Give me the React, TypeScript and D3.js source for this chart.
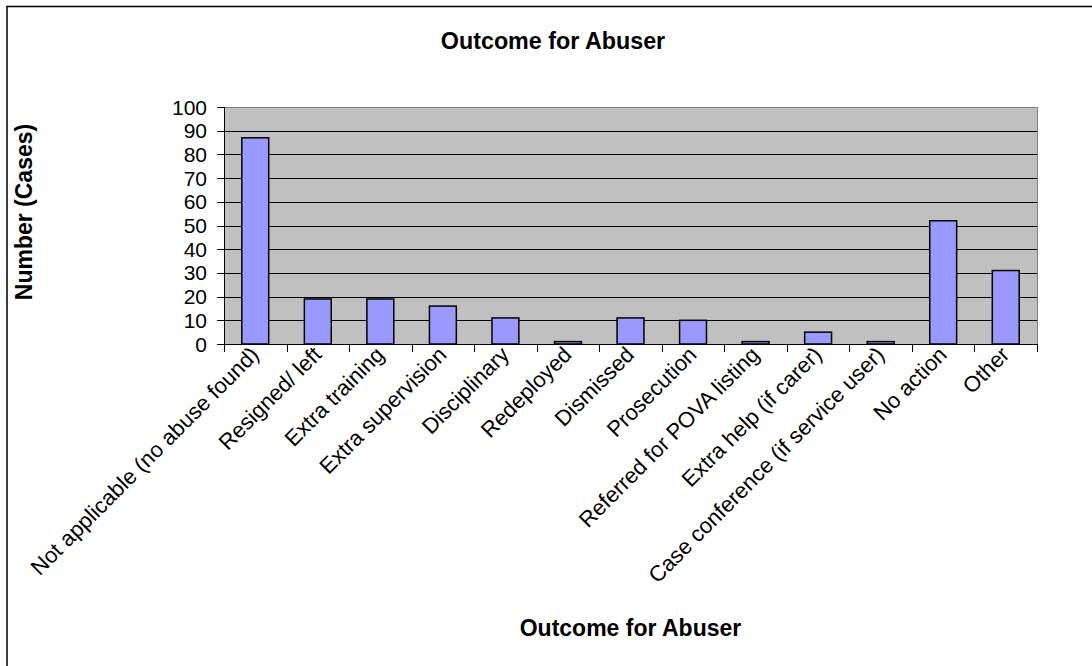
import React from "react";
import * as d3 from "d3";

const categories: string[] = [
  "Not applicable (no abuse found)",
  "Resigned/ left",
  "Extra training",
  "Extra supervision",
  "Disciplinary",
  "Redeployed",
  "Dismissed",
  "Prosecution",
  "Referred for POVA listing",
  "Extra help (if carer)",
  "Case conference (if service user)",
  "No action",
  "Other",
];

const cases: number[] = [87, 19, 19, 16, 11, 1, 11, 10, 1, 5, 1, 52, 31];

const yTicks: number[] = [0, 10, 20, 30, 40, 50, 60, 70, 80, 90, 100];

const chartTitle = "Outcome for Abuser";
const xTitle = "Outcome for Abuser";
const yTitle = "Number (Cases)";

const W = 1092;
const H = 666;
const plot = { left: 224, right: 1037, top: 107, bottom: 344 };
const FONT = "'Liberation Sans', Arial, sans-serif";

export default function App() {
  const x = d3
    .scaleBand<string>()
    .domain(categories)
    .range([plot.left, plot.right])
    .paddingInner(0.57)
    .paddingOuter(0.285);

  const xOuter = d3
    .scaleBand<string>()
    .domain(categories)
    .range([plot.left, plot.right]);

  const y = d3.scaleLinear().domain([0, 100]).range([plot.bottom, plot.top]);

  const boundaries = d3.range(categories.length + 1).map(
    (i) => plot.left + i * xOuter.step()
  );

  return (
    <svg
      width={W}
      height={H}
      style={{ position: "absolute", left: 0, top: 0, background: "#fff" }}
    >
      {/* outer chart frame */}
      <rect x={7} y={6.5} width={W + 20} height={H + 20} fill="#fff" stroke="#000" strokeWidth={1.5} />

      <text x={553} y={49} textAnchor="middle" fontFamily={FONT} fontWeight="bold" fontSize={23.3}>
        {chartTitle}
      </text>

      {/* plot background */}
      <rect
        x={plot.left}
        y={plot.top}
        width={plot.right - plot.left}
        height={plot.bottom - plot.top}
        fill="#C0C0C0"
      />

      {/* gridlines */}
      {yTicks
        .filter((t) => t > 0 && t < 100)
        .map((t) => (
          <line
            key={"g" + t}
            x1={plot.left}
            x2={plot.right}
            y1={Math.round(y(t)) + 0.5}
            y2={Math.round(y(t)) + 0.5}
            stroke="#000"
            strokeWidth={1}
          />
        ))}

      {/* plot border top and right */}
      <line x1={plot.left} x2={plot.right} y1={plot.top + 0.5} y2={plot.top + 0.5} stroke="#808080" />
      <line x1={plot.right + 0.5} x2={plot.right + 0.5} y1={plot.top} y2={plot.bottom} stroke="#808080" />

      {/* bars */}
      {categories.map((c, i) => (
        <rect
          key={c}
          x={x(c)}
          y={y(cases[i])}
          width={x.bandwidth()}
          height={y(0) - y(cases[i])}
          fill="#9999FF"
          stroke="#000"
          strokeWidth={1.5}
        />
      ))}

      {/* y axis */}
      <line x1={plot.left + 0.5} x2={plot.left + 0.5} y1={plot.top} y2={plot.bottom} stroke="#000" />
      {yTicks.map((t) => (
        <g key={"y" + t}>
          <line
            x1={plot.left - 7}
            x2={plot.left}
            y1={Math.round(y(t)) + 0.5}
            y2={Math.round(y(t)) + 0.5}
            stroke="#000"
          />
          <text
            x={207}
            y={y(t) + 7.5}
            textAnchor="end"
            fontFamily={FONT}
            fontSize={21}
          >
            {t}
          </text>
        </g>
      ))}

      {/* x axis */}
      <line x1={plot.left} x2={plot.right + 1} y1={plot.bottom + 0.5} y2={plot.bottom + 0.5} stroke="#000" />
      {boundaries.map((b, i) => (
        <line
          key={"xt" + i}
          x1={Math.round(b) + 0.5}
          x2={Math.round(b) + 0.5}
          y1={plot.bottom}
          y2={plot.bottom + 8}
          stroke="#000"
        />
      ))}
      {categories.map((c) => {
        const cx = (xOuter(c) as number) + xOuter.bandwidth() / 2 + 5;
        const cy = plot.bottom + 12;
        return (
          <text
            key={"l" + c}
            x={cx}
            y={cy}
            textAnchor="end"
            fontFamily={FONT}
            fontSize={22}
            transform={`rotate(-45 ${cx} ${cy})`}
          >
            {c}
          </text>
        );
      })}

      {/* axis titles */}
      <text
        x={(plot.left + plot.right) / 2}
        y={636}
        textAnchor="middle"
        fontFamily={FONT}
        fontWeight="bold"
        fontSize={23}
      >
        {xTitle}
      </text>
      <text
        x={0}
        y={0}
        textAnchor="middle"
        fontFamily={FONT}
        fontWeight="bold"
        fontSize={23}
        transform={`translate(32 ${212}) rotate(-90)`}
      >
        {yTitle}
      </text>
    </svg>
  );
}
